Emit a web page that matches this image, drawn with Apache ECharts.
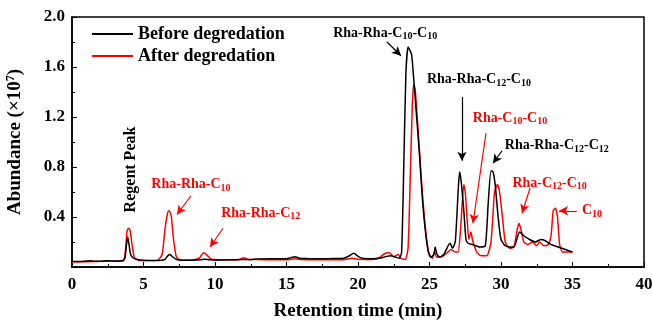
<!DOCTYPE html>
<html><head><meta charset="utf-8">
<script src="https://cdn.jsdelivr.net/npm/echarts@6/dist/echarts.min.js"></script>
<style>html,body{margin:0;padding:0;background:#fff}#c{width:652px;height:322px}</style>
</head><body><div id="c"></div>
<script>
// ---- Data (retention time in min, abundance ×10^7) ----
const beforeSeries = [[0,0.045],[0.5,0.044],[1,0.048],[1.3,0.05],[1.5,0.046],[2,0.047],[2.5,0.05],[3,0.048],[3.5,0.05],[3.7,0.07],[3.8,0.17],[3.9,0.24],[4.0,0.17],[4.1,0.1],[4.3,0.07],[4.6,0.06],[5,0.055],[6,0.052],[6.5,0.06],[6.7,0.09],[6.85,0.1],[7.0,0.085],[7.3,0.06],[7.8,0.055],[8.5,0.055],[9,0.058],[9.3,0.062],[9.6,0.058],[10,0.056],[11,0.057],[12,0.06],[12.5,0.058],[13,0.065],[14,0.066],[15,0.066],[15.3,0.075],[15.6,0.082],[15.9,0.07],[16.5,0.067],[17,0.066],[18,0.067],[19,0.07],[19.4,0.09],[19.7,0.11],[20,0.085],[20.3,0.07],[21,0.066],[21.5,0.07],[22,0.085],[22.3,0.09],[22.6,0.08],[22.9,0.07],[23.05,0.12],[23.2,0.8],[23.35,1.55],[23.5,1.76],[23.6,1.74],[23.75,1.7],[23.9,1.5],[24.1,1.2],[24.3,0.9],[24.5,0.55],[24.7,0.3],[24.9,0.13],[25.1,0.08],[25.3,0.1],[25.4,0.16],[25.5,0.11],[25.7,0.08],[26,0.1],[26.3,0.17],[26.45,0.19],[26.6,0.15],[26.8,0.2],[27.0,0.6],[27.1,0.76],[27.2,0.7],[27.4,0.45],[27.55,0.22],[27.7,0.19],[28,0.18],[28.5,0.16],[28.9,0.17],[29.1,0.5],[29.3,0.77],[29.45,0.76],[29.6,0.65],[29.8,0.4],[30.0,0.22],[30.3,0.17],[30.6,0.16],[30.9,0.16],[31.1,0.22],[31.3,0.28],[31.6,0.25],[32,0.22],[32.4,0.2],[32.8,0.22],[33.1,0.21],[33.5,0.18],[34,0.16],[34.5,0.14],[35,0.12]];
const afterSeries = [[0,0.04],[1,0.042],[2,0.045],[3,0.046],[3.6,0.05],[3.75,0.15],[3.85,0.29],[3.95,0.31],[4.05,0.3],[4.2,0.18],[4.35,0.08],[4.6,0.055],[5,0.05],[5.5,0.05],[6.0,0.055],[6.3,0.1],[6.5,0.3],[6.7,0.44],[6.8,0.45],[6.95,0.4],[7.1,0.22],[7.3,0.08],[7.6,0.055],[8.3,0.055],[8.9,0.07],[9.2,0.115],[9.4,0.1],[9.7,0.065],[10.2,0.058],[11,0.058],[11.7,0.06],[12,0.075],[12.3,0.063],[13,0.06],[14,0.058],[15,0.058],[15.6,0.066],[16,0.06],[17,0.058],[18,0.058],[19,0.058],[19.6,0.07],[20,0.062],[21,0.06],[21.5,0.075],[21.9,0.11],[22.2,0.115],[22.5,0.08],[22.8,0.1],[23.0,0.07],[23.3,0.06],[23.5,0.15],[23.65,0.7],[23.8,1.3],[23.9,1.46],[24.0,1.42],[24.2,1.1],[24.4,0.75],[24.6,0.45],[24.8,0.22],[25.0,0.09],[25.2,0.07],[25.35,0.12],[25.5,0.08],[25.8,0.08],[26.2,0.11],[26.5,0.14],[26.8,0.12],[27.0,0.12],[27.2,0.35],[27.4,0.66],[27.5,0.6],[27.65,0.35],[27.75,0.22],[27.9,0.28],[28.0,0.22],[28.3,0.12],[28.6,0.09],[29.0,0.09],[29.3,0.2],[29.55,0.6],[29.75,0.66],[29.9,0.6],[30.1,0.4],[30.3,0.2],[30.6,0.15],[30.9,0.16],[31.1,0.28],[31.25,0.35],[31.4,0.3],[31.6,0.2],[31.9,0.18],[32.2,0.2],[32.5,0.17],[32.7,0.2],[33.0,0.17],[33.3,0.18],[33.5,0.25],[33.65,0.45],[33.8,0.47],[33.95,0.4],[34.1,0.18],[34.3,0.12],[34.6,0.12],[35,0.12]];
const seriesNames = ['Before degredation', 'After degredation'];
const xTicks = [0,5,10,15,20,25,30,35,40];
const yTicks = [0.4,0.8,1.2,1.6,2.0];

// annotations: [text, x, y, rotate, fontSize]
const blackLabels = [
  ['Regent Peak', 4.13, 0.78, 90, 16],
  ['Rha-Rha-C{s|10}-C{s|10}', 21.9, 1.87, 0, 14],
  ['Rha-Rha-C{s|12}-C{s|10}', 28.46, 1.50, 0, 14],
  ['Rha-Rha-C{s|12}-C{s|12}', 33.9, 0.97, 0, 14]
];
const blackArrows = [
  [22.03,1.80, 23.0,1.69],
  [27.27,1.36, 27.27,0.85],
  [30.07,0.93, 29.44,0.83]
];
const redLabels = [
  ['Rha-Rha-C{s|10}', 8.32, 0.66, 0, 14],
  ['Rha-Rha-C{s|12}', 13.2, 0.43, 0, 14],
  ['Rha-C{s|10}-C{s|10}', 30.63, 1.19, 0, 14],
  ['Rha-C{s|12}-C{s|10}', 33.4, 0.67, 0, 14],
  ['C{s|10}', 36.36, 0.45, 0, 14]
];
const redArrows = [
  [8.32,0.57, 7.34,0.42],
  [10.56,0.31, 9.65,0.16],
  [28.95,1.07, 28.04,0.35],
  [32.03,0.63, 31.47,0.43],
  [35.31,0.45, 34.06,0.45]
];

const FONT = "'Liberation Serif','Times New Roman',serif";
function mkPoints(list, color){
  return list.map(a => ({
    coord:[a[1],a[2]], value:a[0],
    label:{show:true, position:'inside', rotate:a[3], formatter:a[0], color:color,
      fontFamily:FONT, fontWeight:'bold', fontSize:a[4],
      rich:{s:{fontFamily:FONT, fontWeight:'bold', fontSize:10, color:color, verticalAlign:'bottom', padding:[7,0,0,0]}}}
  }));
}
function mkArrows(list){
  return list.map(a => [{coord:[a[0],a[1]]},{coord:[a[2],a[3]]}]);
}

const chart = echarts.init(document.getElementById('c'), null, {renderer:'canvas'});
chart.setOption({
  animation:false,
  backgroundColor:'#fff',
  grid:{left:72, right:8, top:17, bottom:55, outerBoundsMode:'none', containLabel:false, show:true, borderColor:'#000', borderWidth:1.5, backgroundColor:'transparent'},
  legend:{
    left:87, top:20, orient:'vertical', icon:'rect', itemWidth:41, itemHeight:2, itemGap:4,
    textStyle:{fontFamily:FONT, fontWeight:'bold', fontSize:18, color:'#000', padding:[0,0,0,0]},
    data:seriesNames
  },
  xAxis:{
    type:'value', min:0, max:40, interval:5,
    name:'Retention time (min)', nameLocation:'middle', nameGap:35,
    nameTextStyle:{fontFamily:FONT, fontWeight:'bold', fontSize:19, color:'#000'},
    axisLine:{lineStyle:{color:'#000', width:1.5}},
    axisTick:{inside:true, length:5, lineStyle:{color:'#000'}},
    minorTick:{show:true, splitNumber:2, length:3, lineStyle:{color:'#000'}},
    splitLine:{show:false},
    axisLabel:{fontFamily:FONT, fontWeight:'bold', fontSize:17, color:'#000', margin:9,
      formatter:v => xTicks.includes(v) ? String(v) : ''}
  },
  yAxis:{
    type:'value', min:0, max:2.0, interval:0.4,
    name:'Abundance (×10{sup|7})', nameLocation:'middle', nameGap:46,
    nameTextStyle:{fontFamily:FONT, fontWeight:'bold', fontSize:19, color:'#000',
      rich:{sup:{fontFamily:FONT, fontWeight:'bold', fontSize:12, color:'#000', verticalAlign:'top', padding:[0,0,9,0]}}},
    axisLine:{show:true, lineStyle:{color:'#000', width:1.5}},
    axisTick:{inside:true, length:5, lineStyle:{color:'#000'}},
    minorTick:{show:true, splitNumber:2, length:3, lineStyle:{color:'#000'}},
    splitLine:{show:false},
    axisLabel:{fontFamily:FONT, fontWeight:'bold', fontSize:17, color:'#000', margin:7,
      formatter:v => { const f = yTicks.find(t => Math.abs(t-v)<1e-6); return f!==undefined ? f.toFixed(1) : ''; }}
  },
  series:[
    {name:seriesNames[0], type:'line', data:beforeSeries, symbol:'none', smooth:0.2,
      lineStyle:{color:'#000', width:1.5}, itemStyle:{color:'#000'}, z:3,
      markPoint:{symbol:'circle', symbolSize:0, silent:true, data:mkPoints(blackLabels,'#000')},
      markLine:{silent:true, symbol:['none','arrow'], symbolSize:[7,9], label:{show:false},
        lineStyle:{color:'#000', width:1.2, type:'solid'}, emphasis:{disabled:true}, data:mkArrows(blackArrows)}
    },
    {name:seriesNames[1], type:'line', data:afterSeries, symbol:'none', smooth:0.2,
      lineStyle:{color:'#ff0000', width:1.5}, itemStyle:{color:'#ff0000'}, z:2,
      markPoint:{symbol:'circle', symbolSize:0, silent:true, data:mkPoints(redLabels,'#ff0000')},
      markLine:{silent:true, symbol:['none','arrow'], symbolSize:[7,9], label:{show:false},
        lineStyle:{color:'#ff0000', width:1.2, type:'solid'}, emphasis:{disabled:true}, data:mkArrows(redArrows)}
    }
  ]
});
</script></body></html>
